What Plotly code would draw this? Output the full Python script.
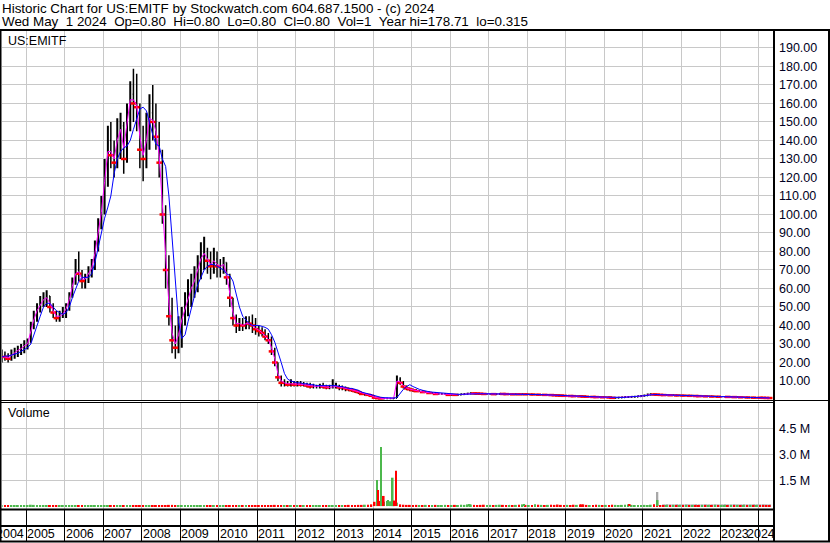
import pandas as pd
import plotly.graph_objects as go

# ---------------- data (monthly) ----------------
dates = pd.date_range('2004-05-01', '2024-04-01', freq='MS') + pd.Timedelta(days=14)

price_low = [
    20, 21, 20, 21, 22, 23, 24, 25,
    27, 31, 38, 42, 47, 50, 50, 47, 44, 42, 42, 44,
    44, 48, 55, 62, 64, 60, 60, 63, 66, 70, 80, 92,
    100, 115, 125, 120, 125, 130, 122, 128, 145, 150, 145, 125,
    118, 125, 135, 140, 135, 120, 95, 60, 40, 25, 22, 25,
    28, 40, 45, 50, 55, 58, 65, 70, 68, 65, 68, 66,
    66, 68, 62, 50, 40, 36, 37, 37, 38, 38, 36, 35,
    34, 34, 32, 30, 24, 18, 10, 7, 7, 7, 7, 7,
    7, 7, 7, 6.5, 6, 6, 6, 6, 6, 5.5, 5.5, 6,
    6, 5, 5, 4.5, 4.5, 4, 3.5, 3, 2.5, 2, 2, 1.5,
    0.7, 0.5, 0.4, 0.4, 0.4, 0.4, 0.5, 0.8, 8, 6, 5, 4.5,
    4, 4, 4, 3.5, 3.5, 3, 3, 2.5, 2.5, 2.5, 2.5, 2,
    2.2, 2.1, 2.2, 2.4, 2.6, 2.8, 3.0, 2.9, 2.8, 2.7, 2.6, 2.6,
    2.6, 2.5, 2.6, 2.7, 2.6, 2.5, 2.5, 2.4, 2.5, 2.4, 2.5, 2.4,
    2.4, 2.3, 2.3, 2.2, 2.2, 2.1, 2.1, 2.0, 1.9, 1.8, 1.7, 1.6,
    1.6, 1.5, 1.5, 1.5, 1.4, 1.3, 1.2, 1.2, 1.1, 1.0, 1.0, 0.9,
    0.9, 0.8, 0.6, 0.7, 0.8, 0.9, 1.0, 1.1, 1.2, 1.2, 1.4, 1.5,
    1.8, 2.1, 2.3, 2.3, 2.2, 2.1, 2.0, 2.0, 1.9, 1.9, 1.8, 1.8,
    1.7, 1.7, 1.6, 1.6, 1.5, 1.5, 1.5, 1.4, 1.4, 1.3, 1.3, 1.2,
    1.2, 1.2, 1.1, 1.1, 1.0, 1.0, 0.9, 0.9, 0.8, 0.8, 0.7, 0.7,
    0.7, 0.6, 0.6, 0.6,
]
price_high = [
    27, 26, 25, 27, 28, 29, 30, 32,
    33, 42, 48, 52, 56, 58, 59, 56, 52, 48, 48, 50,
    52, 58, 66, 76, 80, 70, 68, 72, 76, 86, 98, 110,
    130, 148, 150, 140, 152, 155, 150, 160, 172, 178.71, 176, 160,
    148, 155, 165, 170, 160, 150, 135, 105, 78, 55, 40, 45,
    50, 58, 65, 68, 72, 78, 85, 88, 82, 80, 82, 80,
    76, 77, 74, 68, 55, 46, 44, 44, 45, 45, 46, 44,
    40, 39, 38, 36, 34, 28, 20, 13, 11, 10, 11, 10,
    10, 10, 9.5, 9, 9, 8.5, 8, 8.5, 9, 8, 8, 11,
    9, 8, 7.5, 7, 6.5, 6, 5.5, 5, 4, 3.5, 3, 3,
    1.5, 1, 1, 0.9, 0.9, 0.8, 1, 13, 12, 10, 7.5, 6.5,
    6, 5.5, 5, 5, 4.5, 4.5, 4, 4, 3.5, 3.5, 3.5, 3.5,
    3.0, 2.9, 3.0, 3.2, 3.4, 3.7, 3.9, 3.7, 3.6, 3.5, 3.4, 3.4,
    3.4, 3.3, 3.4, 3.5, 3.4, 3.3, 3.3, 3.2, 3.3, 3.2, 3.3, 3.2,
    3.2, 3.1, 3.1, 3.0, 3.0, 2.9, 2.9, 2.8, 2.7, 2.6, 2.5, 2.4,
    2.4, 2.3, 2.2, 2.2, 2.1, 2.0, 1.9, 1.9, 1.8, 1.7, 1.7, 1.6,
    1.6, 1.5, 1.3, 1.4, 1.5, 1.6, 1.7, 1.8, 1.9, 1.9, 2.1, 2.4,
    2.7, 3.2, 3.4, 3.2, 3.1, 3.0, 2.9, 2.9, 2.8, 2.8, 2.7, 2.7,
    2.6, 2.6, 2.5, 2.5, 2.4, 2.3, 2.2, 2.1, 2.1, 2.0, 2.0, 1.9,
    1.9, 1.9, 1.8, 1.8, 1.7, 1.7, 1.6, 1.6, 1.5, 1.5, 1.4, 1.4,
    1.3, 1.2, 1.1, 1.0,
]
price_close = [
    24, 23, 22, 25, 26, 27, 28, 30,
    31, 40, 45, 50, 52, 55, 56, 50, 47, 44, 45, 47,
    50, 56, 63, 70, 68, 64, 65, 70, 72, 82, 94, 105,
    125, 140, 132, 128, 145, 148, 130, 155, 165, 160, 158, 135,
    130, 145, 155, 150, 142, 128, 100, 70, 45, 32, 28, 38,
    45, 50, 55, 62, 65, 72, 78, 80, 75, 72, 76, 72,
    72, 74, 66, 55, 44, 40, 41, 40, 42, 41, 40, 38,
    37, 36, 34, 32, 26, 20, 12, 9, 9, 8, 9, 8,
    8.5, 8, 8, 7.5, 7, 7, 7, 7.5, 7, 6.5, 6.5, 7,
    7, 6.5, 6.5, 6, 5.5, 5, 4.5, 4, 3, 3, 2.5, 2,
    1, 0.7, 0.6, 0.6, 0.6, 0.6, 0.8, 11, 9, 7, 6, 5.5,
    5, 4.5, 4.5, 4, 4, 3.5, 3.5, 3, 3, 3, 3, 2.5,
    2.6, 2.5, 2.6, 2.8, 3.0, 3.2, 3.4, 3.3, 3.2, 3.1, 3.0, 3.0,
    3.0, 2.9, 3.0, 3.1, 3.0, 2.9, 2.9, 2.8, 2.9, 2.8, 2.9, 2.8,
    2.8, 2.7, 2.7, 2.6, 2.6, 2.5, 2.5, 2.4, 2.3, 2.2, 2.1, 2.0,
    2.0, 1.9, 1.8, 1.8, 1.7, 1.6, 1.5, 1.5, 1.4, 1.3, 1.3, 1.2,
    1.2, 1.1, 0.9, 1.0, 1.1, 1.2, 1.3, 1.4, 1.5, 1.5, 1.7, 1.9,
    2.2, 2.6, 2.8, 2.7, 2.6, 2.5, 2.4, 2.4, 2.3, 2.3, 2.2, 2.2,
    2.1, 2.1, 2.0, 2.0, 1.9, 1.8, 1.8, 1.7, 1.7, 1.6, 1.6, 1.5,
    1.5, 1.5, 1.4, 1.4, 1.3, 1.3, 1.2, 1.2, 1.1, 1.1, 1.0, 1.0,
    0.95, 0.9, 0.85, 0.8,
]
ma_fast = [
    23, 23, 22.5, 24, 25.5, 26.5, 27.5, 29,
    30, 37, 43, 48, 51, 54, 55, 52, 48, 45, 45, 46,
    49, 54, 61, 68, 69, 65, 65, 68, 71, 79, 90, 101,
    118, 134, 134, 130, 140, 146, 136, 148, 162, 162, 159, 142,
    132, 140, 152, 151, 145, 132, 108, 78, 52, 36, 30, 35,
    43, 49, 54, 60, 64, 70, 76, 79, 76, 73, 75, 73,
    72, 73, 68, 58, 47, 41, 41, 40, 41, 41, 40, 38.5,
    37.5, 36, 34.5, 32.5, 28, 22, 14, 10, 9, 8.5, 8.5, 8.5,
    8.5, 8.2, 8, 7.7, 7.2, 7, 7, 7.3, 7.1, 6.7, 6.5, 6.8,
    7, 6.7, 6.5, 6.1, 5.7, 5.2, 4.7, 4.2, 3.3, 3, 2.6, 2.1,
    1.2, 0.8, 0.6, 0.6, 0.6, 0.6, 0.7, 10, 9.5, 7.5, 6.2, 5.6,
    5.1, 4.7, 4.5, 4.1, 4, 3.6, 3.5, 3.1, 3, 3, 3, 2.6,
    2.6, 2.5, 2.6, 2.7, 2.9, 3.1, 3.3, 3.3, 3.2, 3.1, 3.0, 3.0,
    3.0, 2.9, 3.0, 3.0, 3.0, 2.9, 2.9, 2.8, 2.8, 2.8, 2.8, 2.8,
    2.8, 2.7, 2.7, 2.6, 2.6, 2.5, 2.5, 2.4, 2.3, 2.2, 2.1, 2.0,
    2.0, 1.9, 1.8, 1.8, 1.7, 1.6, 1.5, 1.5, 1.4, 1.3, 1.3, 1.2,
    1.2, 1.1, 1.0, 1.0, 1.1, 1.2, 1.3, 1.4, 1.5, 1.5, 1.7, 1.8,
    2.1, 2.5, 2.7, 2.7, 2.6, 2.5, 2.4, 2.4, 2.3, 2.3, 2.2, 2.2,
    2.1, 2.1, 2.0, 2.0, 1.9, 1.8, 1.8, 1.7, 1.7, 1.6, 1.6, 1.5,
    1.5, 1.5, 1.4, 1.4, 1.3, 1.3, 1.2, 1.2, 1.1, 1.1, 1.0, 1.0,
    0.95, 0.9, 0.85, 0.8,
]
ma_slow = [
    23, 23.5, 23.5, 24, 24.5, 25, 26, 27,
    28, 30, 35, 40, 45, 50, 52, 52, 50, 48, 47, 46,
    47, 50, 55, 60, 64, 66, 66, 66, 68, 74, 82, 90,
    98, 104, 110, 122, 130, 134, 136, 137, 140, 146, 152, 157,
    158, 156, 150, 143, 138, 137, 130, 126, 110, 88, 62, 42,
    33, 35, 42, 50, 56, 62, 66, 70, 72, 73, 73, 72,
    71, 70, 68, 67, 64, 56, 50, 45, 43, 41, 40, 40,
    40, 39.5, 39, 38, 35, 31, 26, 20, 14, 11, 10, 9.5,
    9, 9, 8.5, 8.5, 8, 8, 7.5, 7.5, 7.5, 7.5, 7.5, 7.5,
    7.5, 7, 7, 6.5, 6, 6, 5.5, 5, 4, 3.5, 3, 2.5,
    2, 1.5, 1.2, 1, 0.9, 0.8, 0.8, 1, 3.5, 5.5, 7, 8,
    7, 6, 5.5, 5, 4.5, 4.2, 4, 3.8, 3.6, 3.4, 3.2, 3.1,
    3.0, 2.9, 2.8, 2.8, 2.9, 3.0, 3.1, 3.2, 3.2, 3.1, 3.1, 3.0,
    3.0, 3.0, 3.0, 3.0, 3.0, 3.0, 2.9, 2.9, 2.9, 2.9, 2.8, 2.8,
    2.8, 2.8, 2.7, 2.7, 2.6, 2.6, 2.5, 2.5, 2.4, 2.3, 2.2, 2.1,
    2.1, 2.0, 1.9, 1.9, 1.8, 1.7, 1.6, 1.6, 1.5, 1.4, 1.4, 1.3,
    1.3, 1.2, 1.1, 1.0, 1.0, 1.1, 1.2, 1.3, 1.4, 1.5, 1.6, 1.7,
    1.9, 2.2, 2.5, 2.7, 2.7, 2.6, 2.5, 2.5, 2.4, 2.4, 2.3, 2.3,
    2.2, 2.2, 2.1, 2.1, 2.0, 1.9, 1.9, 1.8, 1.8, 1.7, 1.7, 1.6,
    1.6, 1.5, 1.5, 1.4, 1.4, 1.3, 1.3, 1.2, 1.2, 1.1, 1.1, 1.0,
    1.0, 0.95, 0.9, 0.85,
]
# monthly volume, millions of shares
volume = [
    0.05, 0.06, 0.05, 0.04, 0.05, 0.06, 0.05, 0.05,
    0.06, 0.08, 0.07, 0.06, 0.05, 0.06, 0.05, 0.05, 0.06, 0.05, 0.05, 0.06,
    0.05, 0.06, 0.05, 0.06, 0.05, 0.05, 0.05, 0.06, 0.05, 0.05, 0.06, 0.06,
    0.06, 0.05, 0.06, 0.05, 0.06, 0.05, 0.05, 0.06, 0.05, 0.06, 0.06, 0.05,
    0.05, 0.06, 0.05, 0.05, 0.06, 0.05, 0.06, 0.06, 0.07, 0.07, 0.06, 0.05,
    0.06, 0.05, 0.06, 0.05, 0.05, 0.06, 0.05, 0.05, 0.06, 0.05, 0.05, 0.06,
    0.05, 0.06, 0.05, 0.06, 0.06, 0.05, 0.05, 0.06, 0.05, 0.05, 0.06, 0.05,
    0.05, 0.06, 0.05, 0.05, 0.06, 0.07, 0.07, 0.06, 0.05, 0.05, 0.06, 0.05,
    0.05, 0.06, 0.05, 0.06, 0.05, 0.05, 0.06, 0.05, 0.06, 0.05, 0.06, 0.06,
    0.06, 0.05, 0.06, 0.06, 0.07, 0.06, 0.06, 0.07, 0.07, 0.08, 0.08, 0.10,
    0.25, 0.30, 0.30, 0.25, 0.30, 0.28, 0.30, 0.20, 0.10, 0.08, 0.07, 0.07,
    0.06, 0.07, 0.06, 0.06, 0.07, 0.06, 0.06, 0.07, 0.06, 0.06, 0.07, 0.06,
    0.06, 0.07, 0.06, 0.08, 0.07, 0.10, 0.09, 0.07, 0.06, 0.07, 0.08, 0.07,
    0.07, 0.06, 0.07, 0.08, 0.07, 0.06, 0.07, 0.06, 0.07, 0.08, 0.10, 0.07,
    0.06, 0.07, 0.10, 0.08, 0.07, 0.06, 0.07, 0.08, 0.07, 0.09, 0.07, 0.06,
    0.07, 0.06, 0.08, 0.07, 0.09, 0.10, 0.07, 0.06, 0.07, 0.08, 0.07, 0.06,
    0.07, 0.06, 0.08, 0.07, 0.06, 0.07, 0.08, 0.10, 0.07, 0.06, 0.07, 0.06,
    0.07, 0.06, 0.08, 0.10, 0.07, 0.06, 0.05, 0.06, 0.05, 0.06, 0.05, 0.05,
    0.05, 0.06, 0.05, 0.05, 0.06, 0.05, 0.05, 0.06, 0.05, 0.05, 0.06, 0.05,
    0.05, 0.05, 0.06, 0.05, 0.05, 0.06, 0.05, 0.05, 0.06, 0.05, 0.05, 0.06,
    0.05, 0.05, 0.06, 0.05,
]
# unchanged-price volume (grey) from mid 2021
flat_dates = pd.date_range('2021-07-01', '2024-04-01', freq='MS') + pd.Timedelta(days=14)
flat_volume = [0.10, 0.11, 0.10, 0.10, 0.11, 0.10, 0.10, 0.11, 0.10, 0.10, 0.11, 0.10,
               0.10, 0.11, 0.10, 0.10, 0.11, 0.10, 0.10, 0.11, 0.10, 0.10, 0.11, 0.10,
               0.10, 0.11, 0.10, 0.10, 0.11, 0.10, 0.10, 0.11, 0.10, 0.10]
# individual heavy-volume sessions
spike_dates = ['2014-02-06', '2014-02-17', '2014-03-18', '2014-04-12', '2014-05-22',
               '2014-07-06', '2014-07-20', '2014-08-07', '2016-07-05', '2017-12-01',
               '2019-06-01', '2020-08-28', '2021-05-18', '2021-05-20']
spike_volume = [1.52, 0.94, 3.44, 0.59, 0.35, 1.65, 0.32, 2.06, 0.12, 0.12, 0.10, 0.12, 0.82, 0.35]
spike_up = [True, False, True, False, True, True, False, False, True, True, False, False, None, True]

year_labels = [str(y) for y in range(2004, 2025)]
price_ticks = list(range(10, 200, 10))
vol_ticks = [1.5, 3.0, 4.5]
vol_tick_text = ['1.5 M', '3.0 M', '4.5 M']

# ---------------- figure ----------------
W, H = 830, 543
def fx(p): return p / W
def fy(p): return 1 - p / H

price_open = [price_close[0]] + price_close[:-1]
GREEN, RED, GREY = '#4cb84c', '#ff0000', '#a8a8a8'
vol_colors = [GREEN if c >= o else RED for c, o in zip(price_close, price_open)]
spike_colors = [GREY if u is None else (GREEN if u else RED) for u in spike_up]
down_dates = [d for d, c, o in zip(dates, price_close, price_open) if c < o]
down_close = [c for c, o in zip(price_close, price_open) if c < o]

fig = go.Figure()
fig.add_trace(go.Ohlc(x=dates, open=price_open, high=price_high, low=price_low, close=price_close,
                      increasing=dict(line=dict(color='black', width=2)),
                      decreasing=dict(line=dict(color='black', width=1.5)),
                      tickwidth=0.3, xaxis='x', yaxis='y', hoverinfo='skip'))
fig.add_trace(go.Scatter(x=down_dates, y=down_close, mode='markers',
                         marker=dict(symbol='line-ew', size=4, line=dict(color='#ff0000', width=2.5)),
                         xaxis='x', yaxis='y', hoverinfo='skip'))
fig.add_trace(go.Scatter(x=dates, y=ma_fast, mode='lines', line=dict(color='#ff00ff', width=1),
                         xaxis='x', yaxis='y', hoverinfo='skip'))
fig.add_trace(go.Scatter(x=dates, y=ma_slow, mode='lines', line=dict(color='#0000ff', width=1),
                         xaxis='x', yaxis='y', hoverinfo='skip'))
fig.add_trace(go.Bar(x=flat_dates, y=flat_volume, marker=dict(color=GREY, line=dict(width=0)),
                     width=27 * 86400000, xaxis='x2', yaxis='y2', hoverinfo='skip'))
fig.add_trace(go.Bar(x=dates, y=volume, marker=dict(color=vol_colors, line=dict(width=0)),
                     width=18 * 86400000, xaxis='x2', yaxis='y2', hoverinfo='skip'))
fig.add_trace(go.Bar(x=pd.to_datetime(spike_dates), y=spike_volume,
                     marker=dict(color=spike_colors, line=dict(width=0)),
                     width=16 * 86400000, xaxis='x2', yaxis='y2', hoverinfo='skip'))

GRID = '#c8c8c8'
FONT = 'Liberation Sans, Arial, sans-serif'
xdom = [fx(2), fx(774)]
xrange_ = ['2004-05-18', '2024-05-26']

fig.update_layout(
    width=W, height=H, margin=dict(l=0, r=0, t=0, b=0),
    paper_bgcolor='white', plot_bgcolor='white', showlegend=False, barmode='overlay',
    font=dict(family=FONT, size=12, color='black'),
    xaxis=dict(domain=xdom, anchor='y', range=xrange_, type='date', showgrid=True, gridcolor=GRID,
               gridwidth=1, dtick='M12', tick0='2005-01-01', showticklabels=False, ticks='',
               zeroline=False, showline=False, rangeslider=dict(visible=False)),
    yaxis=dict(domain=[fy(400), fy(30)], anchor='x', side='right', range=[-0.27, 199.7],
               tickvals=price_ticks, tickformat='.2f', showgrid=True, gridcolor=GRID, gridwidth=1,
               zeroline=False, showline=False, ticks='', ticklabelstandoff=4,
               tickfont=dict(family=FONT, size=12.5, color='#000022')),
    xaxis2=dict(domain=xdom, anchor='y2', matches='x', type='date', showgrid=True, gridcolor=GRID,
                gridwidth=1, dtick='M12', tick0='2005-01-01', showticklabels=False,
                ticks='outside', ticklen=32, tickwidth=1, tickcolor='black',
                zeroline=False, showline=False),
    yaxis2=dict(domain=[fy(509), fy(402)], anchor='x2', side='right', range=[-0.169, 6.05],
                tickvals=vol_ticks, ticktext=vol_tick_text, showgrid=True, gridcolor=GRID,
                gridwidth=1, zeroline=False, showline=False, ticks='', ticklabelstandoff=4,
                tickfont=dict(family=FONT, size=12.5, color='#000022')),
)

line = dict(color='black', width=1)
shapes = [
    dict(type='line', xref='paper', yref='paper', x0=0, x1=1, y0=fy(30), y1=fy(30), line=dict(color='black', width=2)),
    dict(type='line', xref='paper', yref='paper', x0=fx(0.5), x1=fx(0.5), y0=fy(30), y1=fy(542), line=dict(color='black', width=2)),
    dict(type='line', xref='paper', yref='paper', x0=fx(829), x1=fx(829), y0=fy(30), y1=fy(542), line=dict(color='black', width=2)),
    dict(type='line', xref='paper', yref='paper', x0=fx(774), x1=fx(774), y0=fy(30), y1=fy(542), line=dict(color='black', width=2)),
    dict(type='line', xref='paper', yref='paper', x0=0, x1=1, y0=fy(400.5), y1=fy(400.5), line=line),
    dict(type='line', xref='paper', yref='paper', x0=0, x1=fx(774), y0=fy(402.5), y1=fy(402.5), line=line),
    dict(type='line', xref='paper', yref='paper', x0=0, x1=fx(774), y0=fy(509.5), y1=fy(509.5), line=dict(color='black', width=2)),
    dict(type='line', xref='paper', yref='paper', x0=0, x1=fx(774), y0=fy(526), y1=fy(526), line=dict(color='black', width=2)),
    dict(type='line', xref='paper', yref='paper', x0=0, x1=1, y0=fy(541.5), y1=fy(541.5), line=dict(color='black', width=2)),
]
fig.update_layout(shapes=shapes)

NB = '\u00a0'
header1 = 'Historic Chart for US:EMITF by Stockwatch.com 604.687.1500 - (c) 2024'
header2 = ('Wed May' + NB * 2 + '1 2024' + NB * 2 + 'Op=0.80' + NB * 2 + 'Hi=0.80' + NB * 2 +
           'Lo=0.80' + NB * 2 + 'Cl=0.80' + NB * 2 + 'Vol=1' + NB * 2 + 'Year hi=178.71' + NB * 2 + 'lo=0.315')
ann = [
    dict(text=header1, x=fx(0), y=fy(8.5), xref='paper', yref='paper', xanchor='left', yanchor='middle',
         showarrow=False, font=dict(family=FONT, size=13.4, color='black')),
    dict(text=header2, x=fx(0), y=fy(21.5), xref='paper', yref='paper', xanchor='left', yanchor='middle',
         showarrow=False, font=dict(family=FONT, size=13.4, color='black')),
    dict(text='US:EMITF', x=fx(6), y=fy(41), xref='paper', yref='paper', xanchor='left', yanchor='middle',
         showarrow=False, font=dict(family=FONT, size=12.5, color='black')),
    dict(text='Volume', x=fx(6), y=fy(413), xref='paper', yref='paper', xanchor='left', yanchor='middle',
         showarrow=False, font=dict(family=FONT, size=12.5, color='black')),
]
for lab in year_labels:
    y = int(lab)
    if y == 2004:
        # first label is clamped against the next gridline
        ann.append(dict(text=lab, x='2005-01-01', xref='x2', y=fy(534), yref='paper', xanchor='right',
                        yanchor='middle', xshift=0, showarrow=False,
                        font=dict(family=FONT, size=12.5, color='black')))
    elif y == 2024:
        # last label is clamped against the right end of the axis
        ann.append(dict(text=lab, x=xrange_[1], xref='x2', y=fy(534), yref='paper', xanchor='right',
                        yanchor='middle', xshift=3, showarrow=False,
                        font=dict(family=FONT, size=12.5, color='black')))
    else:
        ann.append(dict(text=lab, x=f'{y}-01-01', xref='x2', y=fy(534), yref='paper', xanchor='left',
                        yanchor='middle', xshift=-1, showarrow=False,
                        font=dict(family=FONT, size=12.5, color='black')))
fig.update_layout(annotations=ann)

fig.write_html('out.html', config={'displayModeBar': False},
               post_script="document.body.style.margin='0';document.body.style.padding='0';"
                           "document.body.style.overflow='hidden';")
